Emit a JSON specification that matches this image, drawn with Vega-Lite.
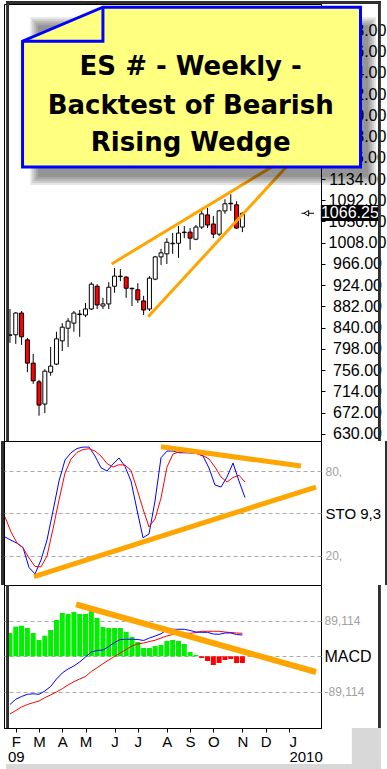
{
 "$schema": "https://vega.github.io/schema/vega-lite/v6.json",
 "padding": 0,
 "background": "white",
 "spacing": 0,
 "bounds": "flush",
 "config": {
  "view": {"stroke": "black", "strokeWidth": 1},
  "axis": {"labelFont": "Liberation Sans", "titleFont": "Liberation Sans", "domainColor": "black", "tickColor": "black", "labelColor": "black"},
  "text": {"font": "Liberation Sans"}
 },
 "datasets": {
  "w": [
   {"d":"2009-01-26","o":825,"h":877,"l":810,"c":826,"k":33.4,"sd":47.5,"m":-121,"s":-144.8,"hi":58.5},
   {"d":"2009-02-02","o":826,"h":871,"l":808,"c":869,"k":31.1,"sd":37,"m":-107.9,"s":-136,"hi":74.3},
   {"d":"2009-02-09","o":869,"h":873,"l":806,"c":822,"k":29,"sd":29.2,"m":-100.9,"s":-127.3,"hi":76.8},
   {"d":"2009-02-16","o":816,"h":820,"l":752,"c":770,"k":26,"sd":25.7,"m":-95.4,"s":-121,"hi":71},
   {"d":"2009-02-23","o":770,"h":788,"l":729,"c":735,"k":11.9,"sd":18.6,"m":-94.1,"s":-116.5,"hi":58.5},
   {"d":"2009-03-02","o":733,"h":737,"l":666,"c":687,"k":7.3,"sd":12.6,"m":-95.4,"s":-112.2,"hi":40.9},
   {"d":"2009-03-09","o":689,"h":758,"l":671,"c":754,"k":17.2,"sd":12.3,"m":-87.1,"s":-103.9,"hi":51.7},
   {"d":"2009-03-16","o":752,"h":802,"l":745,"c":764,"k":31.3,"sd":20,"m":-75.8,"s":-97.1,"hi":66},
   {"d":"2009-03-23","o":768,"h":832,"l":766,"c":818,"k":51.8,"sd":39.1,"m":-57,"s":-89.6,"hi":91.1},
   {"d":"2009-03-30","o":814,"h":849,"l":794,"c":841,"k":72.9,"sd":59.5,"m":-41.9,"s":-81.3,"hi":108.7},
   {"d":"2009-04-06","o":839,"h":859,"l":802,"c":853,"k":87.8,"sd":78.6,"m":-31.9,"s":-72,"hi":106.2},
   {"d":"2009-04-13","o":849,"h":873,"l":832,"c":869,"k":92.9,"sd":88.5,"m":-24.3,"s":-63.8,"hi":111.2},
   {"d":"2009-04-20","o":866,"h":875,"l":822,"c":867,"k":95.9,"sd":93.1,"m":-14.3,"s":-57,"hi":106.2},
   {"d":"2009-04-27","o":865,"h":889,"l":861,"c":877,"k":96.9,"sd":95.2,"m":-1.8,"s":-50.7,"hi":106.2},
   {"d":"2009-05-04","o":877,"h":930,"l":875,"c":926,"k":96.9,"sd":95.7,"m":10.8,"s":-38.2,"hi":113.7},
   {"d":"2009-05-11","o":922,"h":926,"l":877,"c":885,"k":90.6,"sd":94.1,"m":14.6,"s":-28.6,"hi":96.1},
   {"d":"2009-05-18","o":883,"h":899,"l":877,"c":887,"k":82.3,"sd":90.6,"m":15.8,"s":-18.6,"hi":73.5},
   {"d":"2009-05-25","o":887,"h":930,"l":877,"c":920,"k":80,"sd":85.3,"m":24.6,"s":-9.3,"hi":71},
   {"d":"2009-06-01","o":922,"h":958,"l":909,"c":942,"k":84.9,"sd":82.8,"m":34.6,"s":-0.5,"hi":71},
   {"d":"2009-06-08","o":941,"h":956,"l":932,"c":942,"k":89.2,"sd":84.4,"m":42.2,"s":8.3,"hi":71},
   {"d":"2009-06-15","o":940,"h":942,"l":899,"c":918,"k":83.2,"sd":84.2,"m":42.7,"s":17.1,"hi":61},
   {"d":"2009-06-22","o":918,"h":919,"l":883,"c":917,"k":72.9,"sd":80.4,"m":42.7,"s":25.9,"hi":48.4},
   {"d":"2009-06-29","o":915,"h":928,"l":889,"c":895,"k":52.5,"sd":67.3,"m":42.2,"s":30.9,"hi":35.9},
   {"d":"2009-07-06","o":893,"h":903,"l":865,"c":875,"k":32.9,"sd":53.2,"m":39.7,"s":33.4,"hi":20.8},
   {"d":"2009-07-13","o":877,"h":942,"l":873,"c":938,"k":35.5,"sd":40.5,"m":45.9,"s":37.1,"hi":20.8},
   {"d":"2009-07-20","o":936,"h":982,"l":934,"c":980,"k":58.8,"sd":46.1,"m":51,"s":40.4,"hi":25.9},
   {"d":"2009-07-27","o":980,"h":996,"l":964,"c":988,"k":89.4,"sd":60.9,"m":56.7,"s":45.9,"hi":28.4},
   {"d":"2009-08-03","o":986,"h":1017,"l":966,"c":1009,"k":94.1,"sd":82.8,"m":66,"s":51,"hi":38.4},
   {"d":"2009-08-10","o":1006,"h":1027,"l":986,"c":1007,"k":94.1,"sd":92,"m":67.8,"s":54.7,"hi":40.9},
   {"d":"2009-08-17","o":1007,"h":1041,"l":978,"c":1027,"k":92.9,"sd":93.4,"m":67.8,"s":56.7,"hi":38.4},
   {"d":"2009-08-24","o":1028,"h":1041,"l":1017,"c":1029,"k":92.9,"sd":93.4,"m":67.8,"s":57.7,"hi":30.9},
   {"d":"2009-08-31","o":1029,"h":1037,"l":994,"c":1017,"k":92.7,"sd":93.1,"m":64.8,"s":57.7,"hi":10.8},
   {"d":"2009-09-07","o":1015,"h":1043,"l":1013,"c":1039,"k":92.3,"sd":92.3,"m":61,"s":59.7,"hi":3.3},
   {"d":"2009-09-14","o":1039,"h":1077,"l":1035,"c":1065,"k":90.6,"sd":90.9,"m":60.2,"s":62.8,"hi":-4.3},
   {"d":"2009-09-21","o":1063,"h":1077,"l":1037,"c":1043,"k":82.1,"sd":88.5,"m":60.2,"s":62.8,"hi":-11.8},
   {"d":"2009-09-28","o":1045,"h":1061,"l":1017,"c":1025,"k":70.1,"sd":82.8,"m":56,"s":62.8,"hi":-21.8},
   {"d":"2009-10-05","o":1025,"h":1073,"l":1021,"c":1071,"k":68.7,"sd":75.8,"m":55.2,"s":62.8,"hi":-16.8},
   {"d":"2009-10-12","o":1071,"h":1094,"l":1065,"c":1085,"k":75.8,"sd":72.2,"m":58.5,"s":61,"hi":-9.3},
   {"d":"2009-10-19","o":1086,"h":1104,"l":1071,"c":1085,"k":85.6,"sd":75.4,"m":58.5,"s":59.7,"hi":-6.8},
   {"d":"2009-10-26","o":1083,"h":1090,"l":1035,"c":1037,"k":72.9,"sd":77,"m":54.7,"s":58.5,"hi":-16.8},
   {"d":"2009-11-02","o":1039,"h":1069,"l":1029,"c":1066.25,"k":61.2,"sd":72.2,"m":53.5,"s":57.7,"hi":-16.8}
  ],
  "wedge": [
   {"t":"2009-05-28T12:00:00Z","p":966,"g":"u"},
   {"t":"2009-12-19T02:00:00Z","p":1169.4,"g":"u"},
   {"t":"2009-07-11T12:00:00Z","p":861.8,"g":"l"},
   {"t":"2009-12-31T12:00:00Z","p":1169.4,"g":"l"}
  ],
  "shadow": [
   {"t1":"2009-02-19T12:00:00Z","t2":"2010-04-12T00:00:00Z","p1":1454,"p2":1122},
   {"t1":"2009-02-21T20:00:00Z","t2":"2010-04-09T16:00:00Z","p1":1450,"p2":1126},
   {"t1":"2009-02-24T04:00:00Z","t2":"2010-04-07T08:00:00Z","p1":1446.1,"p2":1129.9},
   {"t1":"2009-02-26T12:00:00Z","t2":"2010-04-05T00:00:00Z","p1":1442.1,"p2":1133.9},
   {"t1":"2009-02-28T20:00:00Z","t2":"2010-04-02T16:00:00Z","p1":1438.2,"p2":1137.8}
  ],
  "box": [
   {"t":"2009-02-10T04:00:00Z","p":1288,"n":1},
   {"t":"2009-02-10T04:00:00Z","p":1406.6,"n":2},
   {"t":"2009-05-18T00:00:00Z","p":1473.8,"n":3},
   {"t":"2010-03-24T07:00:00Z","p":1473.8,"n":4},
   {"t":"2010-03-24T07:00:00Z","p":1157.6,"n":5},
   {"t":"2009-02-10T04:00:00Z","p":1157.6,"n":6},
   {"t":"2009-02-10T04:00:00Z","p":1288,"n":7}
  ],
  "fold": [
   {"t":"2009-05-18T00:00:00Z","p":1473.8,"n":1},
   {"t":"2009-05-18T00:00:00Z","p":1406.6,"n":2},
   {"t":"2009-02-10T04:00:00Z","p":1406.6,"n":3}
  ],
  "title": [
   {"t":"2009-08-31T18:00:00Z","p":1339.4,"label":"ES # - Weekly -"},
   {"t":"2009-08-31T18:00:00Z","p":1262.9,"label":"Backtest of Bearish"},
   {"t":"2009-08-31T18:00:00Z","p":1189.2,"label":"Rising Wedge"}
  ],
  "tag": [
   {"t1":"2010-02-04T12:00:00Z","t2":"2010-04-14T08:00:00Z","p1":1082.5,"p2":1050.9,"tc":"2010-03-11T12:00:00Z","v":1066.25,"label":"1066.25","a1":"2010-01-12T04:00:00Z","a2":"2010-01-27T08:00:00Z","ap":"2010-01-18T00:00:00Z"}
  ],
  "stol": [
   {"t":"2009-07-27T00:00:00Z","v":97.1,"g":"u"},
   {"t":"2010-01-06T08:00:00Z","v":83.5,"g":"u"},
   {"t":"2009-02-28T20:00:00Z","v":5.4,"g":"l"},
   {"t":"2010-01-23T20:00:00Z","v":68.7,"g":"l"}
  ],
  "macl": [
   {"t":"2009-04-15T16:00:00Z","v":130.5},
   {"t":"2010-01-29T16:00:00Z","v":-39.4}
  ],
  "frame": [
   {"pn":1,"x1":"2009-01-21T08:00:00Z","x2":"2009-01-24T20:00:00Z","y1":616,"y2":1486,"col":"#2F2F2F"},
   {"pn":1,"x1":"2009-01-21T08:00:00Z","x2":"2010-04-17T20:00:00Z","y1":1480,"y2":1486,"col":"#2F2F2F"},
   {"pn":1,"x1":"2010-04-14T08:00:00Z","x2":"2010-04-17T20:00:00Z","y1":616,"y2":1486,"col":"#2F2F2F"},
   {"pn":2,"x1":"2009-01-21T08:00:00Z","x2":"2009-01-24T20:00:00Z","y1":-0.5,"y2":101.2,"col":"#2F2F2F"},
   {"pn":2,"x1":"2010-04-14T08:00:00Z","x2":"2010-04-17T20:00:00Z","y1":-0.5,"y2":101.2,"col":"#2F2F2F"},
   {"pn":3,"x1":"2009-01-21T08:00:00Z","x2":"2009-01-24T20:00:00Z","y1":-180,"y2":179,"col":"#2F2F2F"},
   {"pn":3,"x1":"2010-04-14T08:00:00Z","x2":"2010-04-17T20:00:00Z","y1":-180,"y2":179,"col":"#2F2F2F"},
   {"pn":3,"x1":"2010-03-13T20:00:00Z","x2":"2010-04-17T20:00:00Z","y1":-180,"y2":-285.5,"col":"#D8D8D8"},
   {"pn":3,"x1":"2009-01-21T08:00:00Z","x2":"2010-04-17T20:00:00Z","y1":-270.4,"y2":-285.5,"col":"#D8D8D8"}
  ]
 },
 "vconcat": [
  {
   "width": 317, "height": 437,
   "layer": [
    {"data": {"name": "w"},
     "mark": {"type": "rule", "color": "black", "strokeWidth": 1, "clip": true},
     "encoding": {
      "x": {"field": "d", "type": "temporal", "axis": null, "scale": {"type": "utc", "domain": [{"year": 2009, "month": 1, "date": 24, "hours": 20, "utc": true}, {"year": 2010, "month": 1, "date": 29, "hours": 16, "utc": true}]}},
      "y": {"field": "l", "type": "quantitative", "scale": {"domain": [616, 1480], "zero": false, "nice": false},
            "axis": {"orient": "right", "title": null, "values": [630,672,714,756,798,840,882,924,966,1008,1050,1092,1134,1176,1218,1260,1302,1344,1386,1428], "tickCount": 100, "format": ".2f", "labelAlign": "center", "labelBaseline": "middle", "labelPadding": 32, "tickSize": 4, "labelFontSize": 16, "labelOverlap": false, "grid": false}},
      "y2": {"field": "h"}
     }},
    {"data": {"name": "w"},
     "mark": {"type": "bar", "width": 4, "stroke": "black", "strokeWidth": 1, "clip": true},
     "encoding": {
      "x": {"field": "d", "type": "temporal", "axis": null},
      "y": {"field": "o", "type": "quantitative"},
      "y2": {"field": "c"},
      "fill": {"condition": {"test": "datum.c < datum.o", "value": "#FF0000"}, "value": "white"}
     }},
    {"data": {"name": "wedge"},
     "mark": {"type": "line", "color": "#FFA500", "strokeWidth": 3},
     "encoding": {
      "x": {"field": "t", "type": "temporal", "axis": null},
      "y": {"field": "p", "type": "quantitative"},
      "detail": {"field": "g"}
     }},
    {"data": {"name": "shadow"},
     "mark": {"type": "rect", "color": "black", "opacity": 0.1},
     "encoding": {
      "x": {"field": "t1", "type": "temporal", "axis": null},
      "x2": {"field": "t2"},
      "y": {"field": "p1", "type": "quantitative"},
      "y2": {"field": "p2"}
     }},
    {"data": {"name": "box"},
     "mark": {"type": "line", "fill": "#FFFF80", "stroke": "#0000FF", "strokeWidth": 3, "strokeJoin": "miter", "strokeMiterLimit": 2},
     "encoding": {
      "x": {"field": "t", "type": "temporal", "axis": null},
      "y": {"field": "p", "type": "quantitative"},
      "order": {"field": "n"}
     }},
    {"data": {"name": "fold"},
     "mark": {"type": "line", "stroke": "#0000FF", "strokeWidth": 3, "strokeJoin": "miter", "strokeMiterLimit": 2},
     "encoding": {
      "x": {"field": "t", "type": "temporal", "axis": null},
      "y": {"field": "p", "type": "quantitative"},
      "order": {"field": "n"}
     }},
    {"data": {"name": "title"},
     "mark": {"type": "text", "font": "DejaVu Sans", "fontWeight": "bold", "fontSize": 26, "align": "center", "baseline": "alphabetic", "color": "black"},
     "encoding": {
      "x": {"field": "t", "type": "temporal", "axis": null},
      "y": {"field": "p", "type": "quantitative"},
      "text": {"field": "label"}
     }},
    {"data": {"name": "tag"},
     "mark": {"type": "rect", "color": "black"},
     "encoding": {
      "x": {"field": "t1", "type": "temporal", "axis": null},
      "x2": {"field": "t2"},
      "y": {"field": "p1", "type": "quantitative"},
      "y2": {"field": "p2"}
     }},
    {"data": {"name": "tag"},
     "mark": {"type": "text", "fontSize": 16, "align": "center", "baseline": "middle", "color": "white"},
     "encoding": {
      "x": {"field": "tc", "type": "temporal", "axis": null},
      "y": {"field": "v", "type": "quantitative"},
      "text": {"field": "label"}
     }},
    {"data": {"name": "tag"},
     "mark": {"type": "rule", "color": "black", "strokeWidth": 1},
     "encoding": {
      "x": {"field": "a1", "type": "temporal", "axis": null},
      "x2": {"field": "a2"},
      "y": {"field": "v", "type": "quantitative"}
     }},
    {"data": {"name": "tag"},
     "mark": {"type": "point", "shape": "triangle-left", "filled": true, "fill": "white", "stroke": "black", "strokeWidth": 1, "size": 30, "opacity": 1},
     "encoding": {
      "x": {"field": "ap", "type": "temporal", "axis": null},
      "y": {"field": "v", "type": "quantitative"}
     }},
    {"data": {"name": "frame"},
     "transform": [{"filter": "datum.pn == 1"}],
     "mark": {"type": "rect"},
     "encoding": {
      "x": {"field": "x1", "type": "temporal", "axis": null},
      "x2": {"field": "x2"},
      "y": {"field": "y1", "type": "quantitative"},
      "y2": {"field": "y2"},
      "color": {"field": "col", "type": "nominal", "scale": null}
     }}
   ]
  },
  {
   "width": 317, "height": 144,
   "layer": [
    {"data": {"name": "w"},
     "mark": {"type": "line", "color": "#0000FF", "strokeWidth": 1, "clip": true},
     "encoding": {
      "x": {"field": "d", "type": "temporal", "axis": null, "scale": {"type": "utc", "domain": [{"year": 2009, "month": 1, "date": 24, "hours": 20, "utc": true}, {"year": 2010, "month": 1, "date": 29, "hours": 16, "utc": true}]}},
      "y": {"field": "k", "type": "quantitative", "scale": {"domain": [-0.5, 101.2], "zero": false, "nice": false},
            "axis": {"orient": "right", "title": null, "values": [20, 50, 80], "tickCount": 100, "labelExpr": "datum.value == 50 ? 'STO 9,3' : datum.label + ','", "labelColor": {"condition": {"test": "datum.value == 50", "value": "black"}, "value": "#A0A0A0"}, "labelFontSize": {"condition": {"test": "datum.value == 50", "value": 15}, "value": 12}, "labelAlign": "left", "labelBaseline": "middle", "labelPadding": 4, "tickSize": 0, "domain": false, "grid": true, "gridDash": [4, 3], "gridColor": "#AAAAAA", "labelOverlap": false}}
     }},
    {"data": {"name": "w"},
     "mark": {"type": "line", "color": "#FF0000", "strokeWidth": 1, "clip": true},
     "encoding": {
      "x": {"field": "d", "type": "temporal", "axis": null},
      "y": {"field": "sd", "type": "quantitative"}
     }},
    {"data": {"name": "stol"},
     "mark": {"type": "line", "color": "#FFA500", "strokeWidth": 5, "clip": true},
     "encoding": {
      "x": {"field": "t", "type": "temporal", "axis": null},
      "y": {"field": "v", "type": "quantitative"},
      "detail": {"field": "g"}
     }},
    {"data": {"name": "frame"},
     "transform": [{"filter": "datum.pn == 2"}],
     "mark": {"type": "rect"},
     "encoding": {
      "x": {"field": "x1", "type": "temporal", "axis": null},
      "x2": {"field": "x2"},
      "y": {"field": "y1", "type": "quantitative"},
      "y2": {"field": "y2"},
      "color": {"field": "col", "type": "nominal", "scale": null}
     }}
   ]
  },
  {
   "width": 317, "height": 143,
   "layer": [
    {"data": {"name": "w"},
     "mark": {"type": "bar", "width": 5, "clip": true},
     "encoding": {
      "x": {"field": "d", "type": "temporal", "scale": {"type": "utc", "domain": [{"year": 2009, "month": 1, "date": 24, "hours": 20, "utc": true}, {"year": 2010, "month": 1, "date": 29, "hours": 16, "utc": true}]},
            "axis": {"orient": "bottom", "title": null, "grid": false, "tickSize": 4, "labelPadding": 2, "labelFontSize": 15, "labelLineHeight": 15, "labelBaseline": "top", "labelOverlap": false, "labelFlush": false, "tickCount": 100,
                     "values": [{"year": 2009, "month": 2, "date": 2, "utc": true}, {"year": 2009, "month": 3, "date": 2, "utc": true}, {"year": 2009, "month": 3, "date": 30, "utc": true}, {"year": 2009, "month": 4, "date": 27, "utc": true}, {"year": 2009, "month": 6, "date": 1, "utc": true}, {"year": 2009, "month": 6, "date": 29, "utc": true}, {"year": 2009, "month": 8, "date": 3, "utc": true}, {"year": 2009, "month": 8, "date": 31, "utc": true}, {"year": 2009, "month": 9, "date": 28, "utc": true}, {"year": 2009, "month": 11, "date": 2, "utc": true}, {"year": 2009, "month": 11, "date": 30, "utc": true}, {"year": 2009, "month": 12, "date": 28, "utc": true}],
                     "labelExpr": "utcmonth(datum.value) == 1 && utcdate(datum.value) < 7 ? ['F', '09'] : (utcmonth(datum.value) == 11 && utcdate(datum.value) > 20 ? ['J', '2010'] : substring(utcFormat(time(datum.value) + 345600000, '%b'), 0, 1))",
                     "labelAlign": {"condition": {"test": "utcmonth(datum.value) == 11 && utcdate(datum.value) > 20", "value": "left"}, "value": "center"}}},
      "y": {"field": "hi", "type": "quantitative", "scale": {"domain": [-180, 179], "zero": false, "nice": false},
            "axis": {"orient": "right", "title": null, "values": [-89.114, 0, 89.114], "tickCount": 100, "labelExpr": "datum.value > 1 ? '89,114' : (datum.value < -1 ? '-89,114' : 'MACD')", "labelColor": {"condition": {"test": "datum.value == 0", "value": "black"}, "value": "#A0A0A0"}, "labelFontSize": {"condition": {"test": "datum.value == 0", "value": 16}, "value": 12}, "labelAlign": "left", "labelBaseline": "middle", "labelPadding": 3, "tickSize": 0, "domain": false, "grid": true, "gridDash": [4, 3], "gridColor": "#AAAAAA", "labelOverlap": false}},
      "y2": {"datum": 0},
      "color": {"condition": {"test": "datum.hi < 0", "value": "#FF0000"}, "value": "#00F000"}
     }},
    {"data": {"name": "w"},
     "mark": {"type": "line", "color": "#FF0000", "strokeWidth": 1, "clip": true},
     "encoding": {
      "x": {"field": "d", "type": "temporal"},
      "y": {"field": "s", "type": "quantitative"}
     }},
    {"data": {"name": "w"},
     "mark": {"type": "line", "color": "#0000FF", "strokeWidth": 1, "clip": true},
     "encoding": {
      "x": {"field": "d", "type": "temporal"},
      "y": {"field": "m", "type": "quantitative"}
     }},
    {"data": {"name": "macl"},
     "mark": {"type": "line", "color": "#FFA500", "strokeWidth": 6, "clip": true},
     "encoding": {
      "x": {"field": "t", "type": "temporal"},
      "y": {"field": "v", "type": "quantitative"}
     }},
    {"data": {"name": "frame"},
     "transform": [{"filter": "datum.pn == 3"}],
     "mark": {"type": "rect"},
     "encoding": {
      "x": {"field": "x1", "type": "temporal"},
      "x2": {"field": "x2"},
      "y": {"field": "y1", "type": "quantitative"},
      "y2": {"field": "y2"},
      "color": {"field": "col", "type": "nominal", "scale": null}
     }}
   ]
  }
 ]
}
